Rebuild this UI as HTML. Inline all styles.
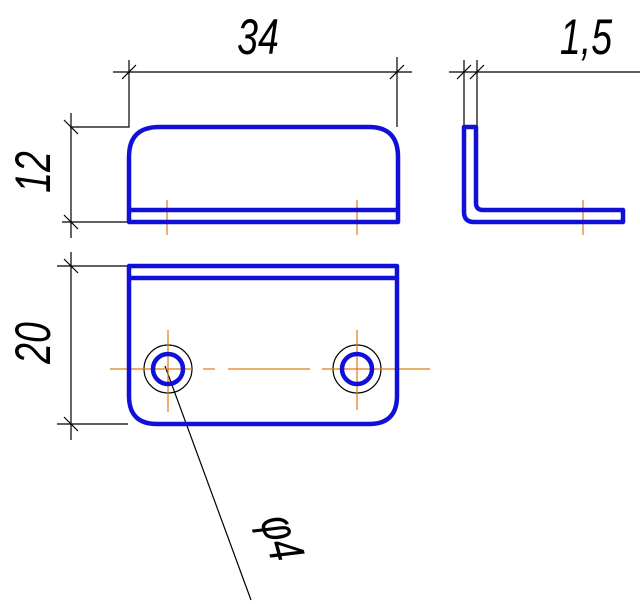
<!DOCTYPE html>
<html><head><meta charset="utf-8"><style>html,body{margin:0;padding:0;background:#fff}svg{display:block}</style></head><body>
<svg width="640" height="604" viewBox="0 0 640 604" xmlns="http://www.w3.org/2000/svg">
<g fill="none" stroke="#000" stroke-width="1.2">
<line x1="113" y1="72" x2="412" y2="72"/>
<polyline points="129,60 129,127 70,127"/>
<line x1="397" y1="57" x2="397" y2="127"/>
<line x1="122" y1="79" x2="136" y2="65"/><line x1="390" y1="79" x2="404" y2="65"/>
<line x1="449" y1="72" x2="640" y2="72"/>
<line x1="464" y1="60" x2="464" y2="127"/><line x1="477" y1="60" x2="477" y2="127"/>
<line x1="457" y1="79" x2="471" y2="65"/><line x1="470" y1="79" x2="484" y2="65"/>
<line x1="71" y1="113" x2="71" y2="238"/>
<line x1="62" y1="222" x2="129" y2="222"/>
<line x1="64" y1="120" x2="78" y2="134"/><line x1="64" y1="215" x2="78" y2="229"/>
<line x1="71" y1="252" x2="71" y2="440"/>
<line x1="57" y1="266" x2="128" y2="266"/><line x1="57" y1="424" x2="128" y2="424"/>
<line x1="64" y1="259" x2="78" y2="273"/><line x1="64" y1="417" x2="78" y2="431"/>
<circle cx="168" cy="369" r="24"/><circle cx="357" cy="369" r="24"/>
<line x1="165" y1="366" x2="251" y2="600"/>
</g>
<g fill="none" stroke="#e07a10" stroke-width="1.2">
<line x1="167" y1="200" x2="167" y2="235"/><line x1="357" y1="200" x2="357" y2="235"/>
<line x1="583" y1="200" x2="583" y2="235"/>
<line x1="110" y1="369" x2="192" y2="369"/><line x1="203" y1="369" x2="215" y2="369"/>
<line x1="228" y1="369" x2="310" y2="369"/><line x1="322" y1="369" x2="430" y2="369"/>
<line x1="168" y1="330" x2="168" y2="412"/><line x1="357" y1="330" x2="357" y2="410"/>
</g>
<g fill="none" stroke="#1010d8" stroke-width="4.5" stroke-linejoin="round">
<path d="M129,222 V157 Q129,127 159,127 H369 Q398,127 398,157 V222 Z"/>
<line x1="129" y1="210" x2="398" y2="210"/>
<path d="M129,266 H397 V396 Q397,424 369,424 H157 Q129,424 129,396 Z"/>
<line x1="129" y1="278" x2="397" y2="278"/>
<circle cx="168" cy="369" r="15"/><circle cx="357" cy="369" r="15"/>
<path d="M464,127 H476 V203 Q476,210 483,210 H623 V222 H474 Q464,222 464,212 Z"/>
</g>
<g font-family="Liberation Sans, sans-serif" font-style="italic" font-size="50" fill="#000">
<text transform="translate(258,54) scale(0.75,1)" text-anchor="middle">34</text>
<text transform="translate(586,54) scale(0.75,1)" text-anchor="middle">1,5</text>
<text transform="translate(50,172) rotate(-90) scale(0.75,1)" text-anchor="middle">12</text>
<text transform="translate(50,343) rotate(-90) scale(0.75,1)" text-anchor="middle">20</text>
<text transform="translate(266,542) rotate(75) scale(0.75,1)" text-anchor="middle">φ4</text>
</g>
</svg>
</body></html>
